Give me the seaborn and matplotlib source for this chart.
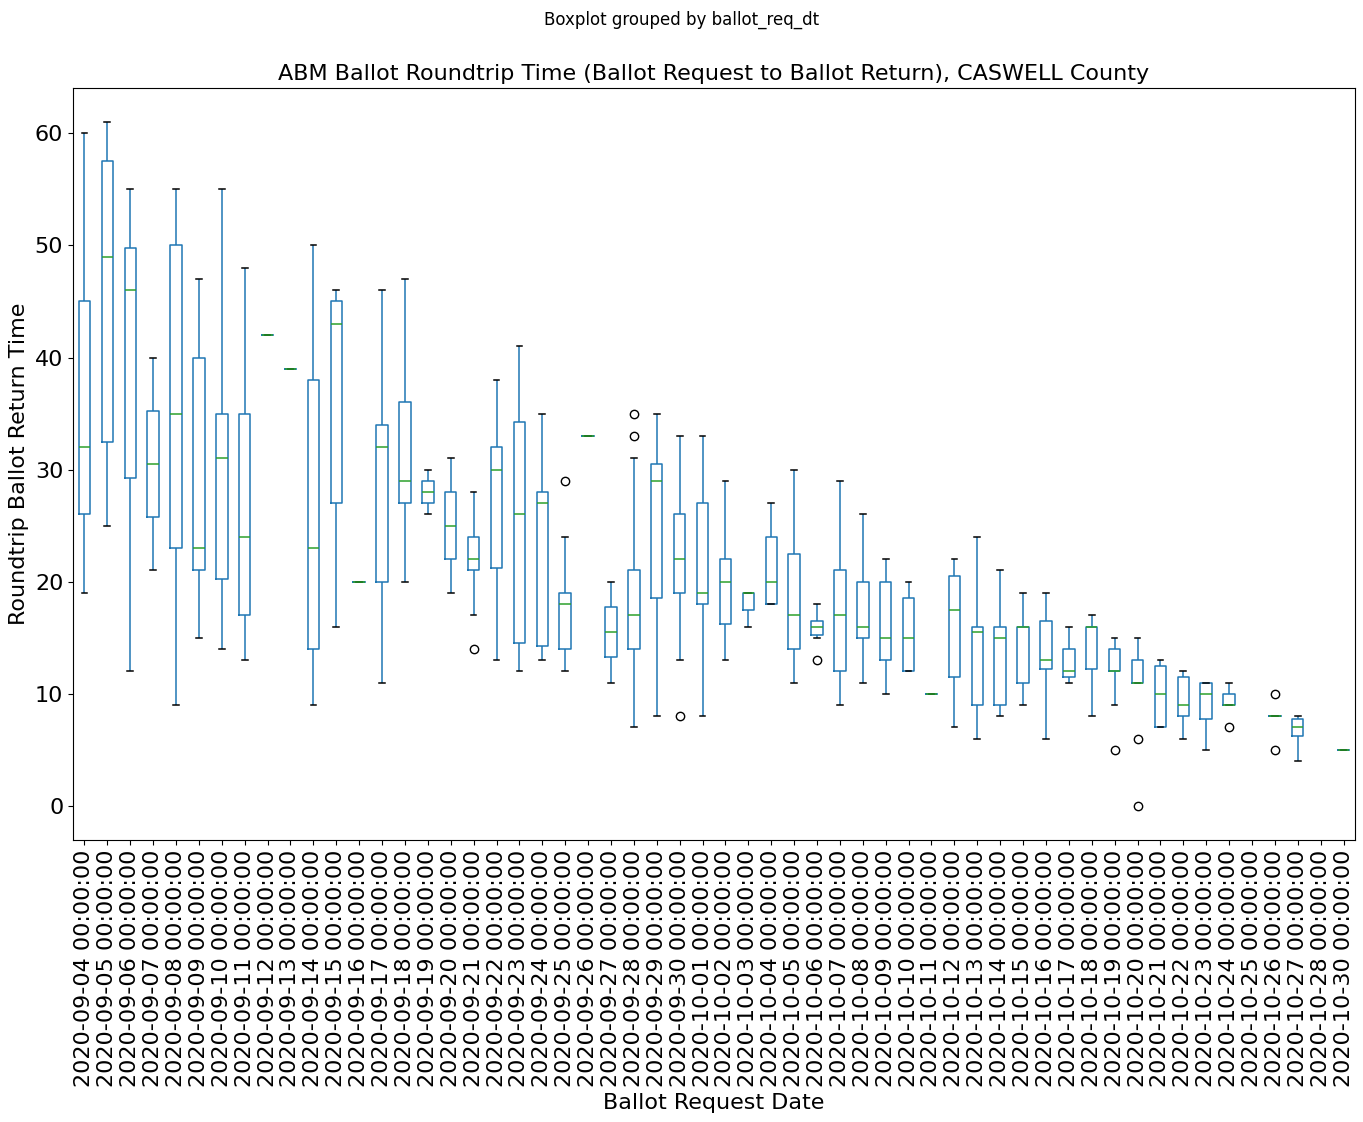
import numpy as np
import pandas as pd
import matplotlib
matplotlib.use("Agg")
import matplotlib.pyplot as plt
import seaborn as sns

dates = ["2020-09-04", "2020-09-05", "2020-09-06", "2020-09-07", "2020-09-08", "2020-09-09",
         "2020-09-10", "2020-09-11", "2020-09-12", "2020-09-13", "2020-09-14", "2020-09-15",
         "2020-09-16", "2020-09-17", "2020-09-18", "2020-09-19", "2020-09-20", "2020-09-21",
         "2020-09-22", "2020-09-23", "2020-09-24", "2020-09-25", "2020-09-26", "2020-09-27",
         "2020-09-28", "2020-09-29", "2020-09-30", "2020-10-01", "2020-10-02", "2020-10-03",
         "2020-10-04", "2020-10-05", "2020-10-06", "2020-10-07", "2020-10-08", "2020-10-09",
         "2020-10-10", "2020-10-11", "2020-10-12", "2020-10-13", "2020-10-14", "2020-10-15",
         "2020-10-16", "2020-10-17", "2020-10-18", "2020-10-19", "2020-10-20", "2020-10-21",
         "2020-10-22", "2020-10-23", "2020-10-24", "2020-10-25", "2020-10-26", "2020-10-27",
         "2020-10-28", "2020-10-30"]
nan = np.nan
whisk_lo = [19, 25, 12, 21, 9, 15, 14, 13, 42, 39, 9, 16, 20, 11, 20, 26, 19, 17, 13, 12, 13, 12, 33, 11,
            7, 8, 13, 8, 13, 16, 18, 11, 15, 9, 11, 10, 12, 10, 7, 6, 8, 9, 6, 11, 8, 9, 11, 7, 6, 5, 9,
            nan, 8, 4, nan, 5]
q1 = [26, 32.5, 29.25, 25.75, 23, 21, 20.25, 17, 42, 39, 14, 27, 20, 20, 27, 27, 22, 21, 21.25, 14.5, 14.25,
      14, 33, 13.25, 14, 18.5, 19, 18, 16.25, 17.5, 18, 14, 15.25, 12, 15, 13, 12, 10, 11.5, 9, 9, 11, 12.25,
      11.5, 12.25, 12, 11, 7, 8, 7.75, 9, nan, 8, 6.25, nan, 5]
median = [32, 49, 46, 30.5, 35, 23, 31, 24, 42, 39, 23, 43, 20, 32, 29, 28, 25, 22, 30, 26, 27, 18, 33, 15.5,
          17, 29, 22, 19, 20, 19, 20, 17, 16, 17, 16, 15, 15, 10, 17.5, 15.5, 15, 16, 13, 12, 16, 12, 11, 10,
          9, 10, 9, nan, 8, 7, nan, 5]
q3 = [45, 57.5, 49.75, 35.25, 50, 40, 35, 35, 42, 39, 38, 45, 20, 34, 36, 29, 28, 24, 32, 34.25, 28, 19, 33,
      17.75, 21, 30.5, 26, 27, 22, 19, 24, 22.5, 16.5, 21, 20, 20, 18.5, 10, 20.5, 16, 16, 16, 16.5, 14, 16,
      14, 13, 12.5, 11.5, 11, 10, nan, 8, 7.75, nan, 5]
whisk_hi = [60, 61, 55, 40, 55, 47, 55, 48, 42, 39, 50, 46, 20, 46, 47, 30, 31, 28, 38, 41, 35, 24, 33, 20,
            31, 35, 33, 33, 29, 19, 27, 30, 18, 29, 26, 22, 20, 10, 22, 24, 21, 19, 19, 16, 17, 15, 15, 13,
            12, 11, 11, nan, 8, 8, nan, 5]
outlier_dates = ["2020-09-21", "2020-09-25", "2020-09-28", "2020-09-28", "2020-09-30", "2020-10-06",
                 "2020-10-19", "2020-10-20", "2020-10-20", "2020-10-24", "2020-10-26", "2020-10-26"]
outlier_vals = [14, 29, 33, 35, 8, 13, 5, 0, 6, 7, 5, 10]

# Build a sample per date whose quartiles/whiskers reproduce the read statistics
rows_x, rows_y = [], []
for i, d in enumerate(dates):
    if np.isnan(median[i]):
        continue
    outs = [v for dd, v in zip(outlier_dates, outlier_vals) if dd == d]
    lows = sorted(v for v in outs if v < whisk_lo[i])
    highs = sorted(v for v in outs if v > whisk_hi[i])
    low_part = ([whisk_lo[i]] * (2 - len(lows)) + lows)
    low_part = sorted(low_part)
    high_part = sorted(highs + [whisk_hi[i]] * (2 - len(highs)))
    vals = low_part + [whisk_lo[i], q1[i], q1[i], median[i], median[i], median[i],
                       q3[i], q3[i], whisk_hi[i]] + high_part
    rows_x += [d + " 00:00:00"] * len(vals)
    rows_y += vals

df = pd.DataFrame({"ballot_req_dt": rows_x, "roundtrip": rows_y})
order = [d + " 00:00:00" for d in dates]

fig = plt.figure(figsize=(13.63, 11.22), dpi=100)
ax = fig.add_axes([73 / 1363, 1 - 840 / 1122, (1355 - 73) / 1363, (840 - 88) / 1122])

sns.boxplot(data=df, x="ballot_req_dt", y="roundtrip", order=order, ax=ax,
            width=0.5, fill=False, color="#1f77b4", linewidth=1.1, fliersize=6,
            medianprops={"color": "#2ca02c"},
            capprops={"color": "black"},
            whiskerprops={"color": "#1f77b4"},
            flierprops={"marker": "o", "markerfacecolor": "none",
                        "markeredgecolor": "black", "markersize": 6})

ax.set_xlim(-0.5, len(order) - 0.5)
ax.set_yticks([0, 10, 20, 30, 40, 50, 60])
ax.tick_params(axis="both", labelsize=16)
ax.tick_params(axis="x", labelrotation=90)
ax.set_xlabel("Ballot Request Date", fontsize=16)
ax.set_ylabel("Roundtrip Ballot Return Time", fontsize=16)
ax.set_title("ABM Ballot Roundtrip Time (Ballot Request to Ballot Return), CASWELL County", fontsize=16)
fig.suptitle("Boxplot grouped by ballot_req_dt", fontsize=12, y=0.99)

fig.savefig("out.png", dpi=100)
